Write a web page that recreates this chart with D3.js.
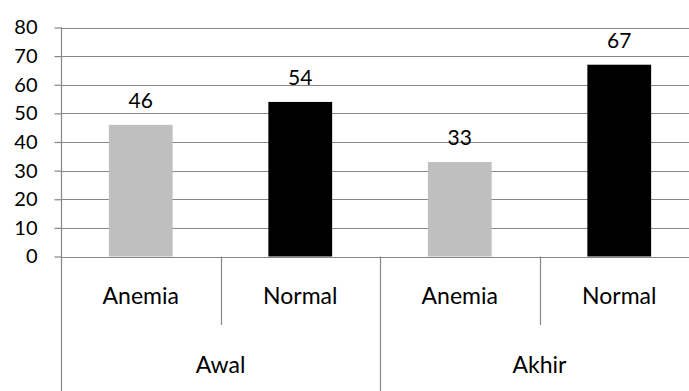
<!DOCTYPE html>
<html>
<head>
<meta charset="utf-8">
<script src="https://cdn.jsdelivr.net/npm/d3@7"></script>
<style>
  html, body { margin: 0; padding: 0; background: #fff; }
  svg { display: block; }
  text { font-family: Lato, "Open Sans", sans-serif; fill: #000; }
</style>
</head>
<body>
<svg id="chart" width="689" height="391"></svg>
<script>
// Chart data
const groups = ["Awal", "Akhir"];
const categories = ["Anemia", "Normal", "Anemia", "Normal"];
const categoryGroup = [0, 0, 1, 1];
const values = [46, 54, 33, 67];
const barColors = ["#bfbfbf", "#000000", "#bfbfbf", "#000000"];
const yTicks = [0, 10, 20, 30, 40, 50, 60, 70, 80];

(function draw() {
  const svg = d3.select("#chart");
  const lineColor = "#878787";

  const plotLeft = 61, plotRight = 699, plotTop = 27.5, plotBottom = 256.5;

  const x = d3.scaleBand()
    .domain(d3.range(categories.length))
    .range([plotLeft, plotRight])
    .paddingInner(0.6)
    .paddingOuter(0.3);
  const step = (plotRight - plotLeft) / categories.length;

  const y = d3.scaleLinear().domain([0, 80]).range([plotBottom, plotTop]);

  // Horizontal gridlines
  svg.append("g")
    .selectAll("line")
    .data(yTicks.filter(d => d > 0))
    .join("line")
    .attr("x1", plotLeft).attr("x2", plotRight)
    .attr("y1", d => Math.round(y(d)) + 0.5)
    .attr("y2", d => Math.round(y(d)) + 0.5)
    .attr("stroke", lineColor)
    .attr("stroke-width", 1.2);

  // Bars
  svg.append("g")
    .selectAll("rect")
    .data(values)
    .join("rect")
    .attr("x", (d, i) => x(i))
    .attr("width", x.bandwidth())
    .attr("y", d => y(d))
    .attr("height", d => y(0) - y(d))
    .attr("fill", (d, i) => barColors[i]);

  // Value labels above bars
  svg.append("g")
    .selectAll("text")
    .data(values)
    .join("text")
    .attr("x", (d, i) => x(i) + x.bandwidth() / 2)
    .attr("y", d => y(d) - 17)
    .attr("text-anchor", "middle")
    .style("font-size", "21px")
    .text(d => d);

  // Y axis
  const yAxis = svg.append("g")
    .attr("transform", `translate(${plotLeft + 0.5},0)`)
    .call(d3.axisLeft(y).tickValues(yTicks).tickSize(7).tickPadding(17));
  yAxis.select(".domain").remove();
  yAxis.selectAll(".tick line").attr("stroke", lineColor).attr("stroke-width", 1.2);
  yAxis.selectAll(".tick text")
    .style("font-size", "20px")
    .style("font-family", "Lato, 'Open Sans', sans-serif")
    .attr("fill", "#000");

  // Vertical axis line runs down through the category label area
  svg.append("line")
    .attr("x1", plotLeft + 0.5).attr("x2", plotLeft + 0.5)
    .attr("y1", plotTop).attr("y2", 391)
    .attr("stroke", lineColor).attr("stroke-width", 1.2);

  // Baseline at zero
  svg.append("line")
    .attr("x1", plotLeft).attr("x2", plotRight)
    .attr("y1", Math.round(y(0)) + 0.5).attr("y2", Math.round(y(0)) + 0.5)
    .attr("stroke", lineColor).attr("stroke-width", 1.2);

  // Dividers between categories: short inside a group, long between groups
  const dividers = d3.range(1, categories.length + 1).map(i => ({
    x: plotLeft + step * i,
    long: i === categories.length || categoryGroup[i] !== categoryGroup[i - 1]
  }));
  svg.append("g")
    .selectAll("line")
    .data(dividers)
    .join("line")
    .attr("x1", d => Math.round(d.x) + 0.5).attr("x2", d => Math.round(d.x) + 0.5)
    .attr("y1", y(0))
    .attr("y2", d => d.long ? 391 : 325)
    .attr("stroke", lineColor).attr("stroke-width", 1.2);

  // Category labels
  svg.append("g")
    .selectAll("text")
    .data(categories)
    .join("text")
    .attr("x", (d, i) => plotLeft + step * (i + 0.5))
    .attr("y", 304)
    .attr("text-anchor", "middle")
    .style("font-size", "23px")
    .text(d => d);

  // Group labels
  svg.append("g")
    .selectAll("text")
    .data(groups)
    .join("text")
    .attr("x", (g, gi) => {
      const idx = d3.range(categories.length).filter(i => categoryGroup[i] === gi);
      return plotLeft + step * (d3.min(idx) + d3.max(idx) + 1) / 2;
    })
    .attr("y", 373)
    .attr("text-anchor", "middle")
    .style("font-size", "23px")
    .text(d => d);
})();
</script>
</body>
</html>
